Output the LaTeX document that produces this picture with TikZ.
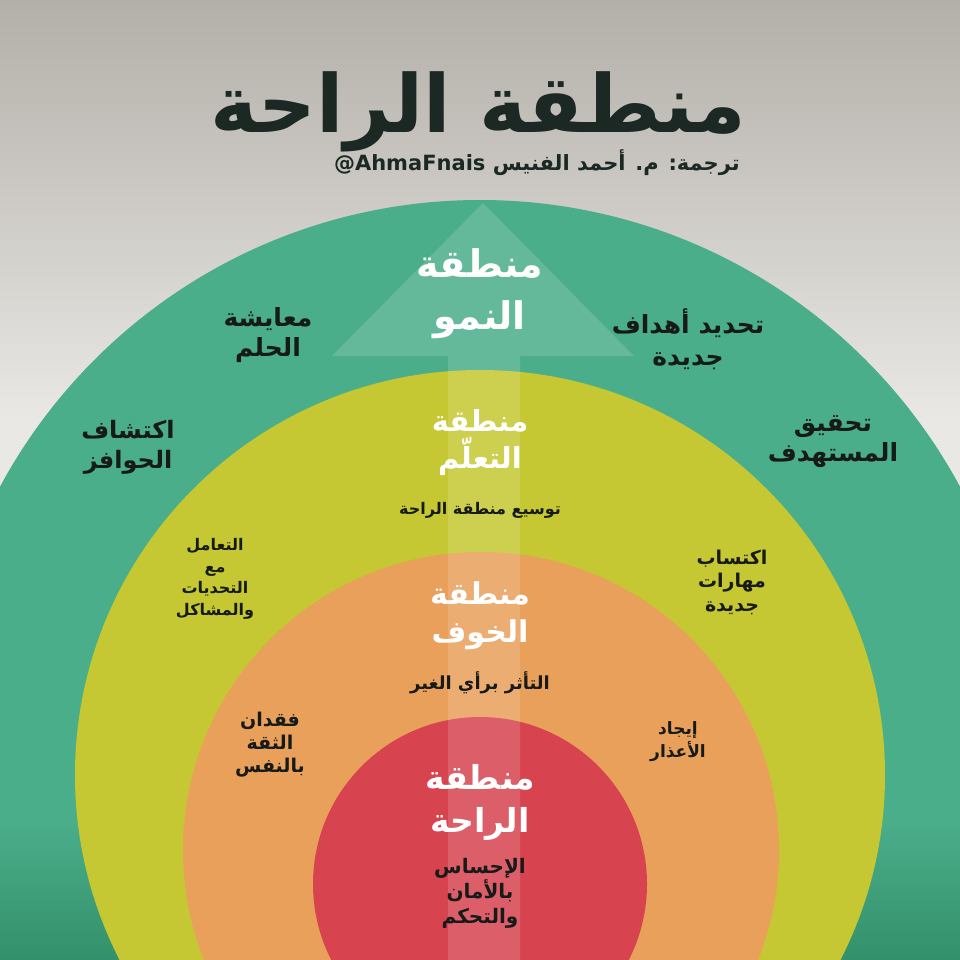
\documentclass[tikz,border=0pt]{standalone}
\usepackage{fontspec}
\usepackage{graphicx}
\TeXXeTstate=1
\newfontfamily\arfont[Script=Arabic]{DejaVu Sans}
\newcommand{\AR}[1]{\beginR #1\endR}
\definecolor{bgtop}{HTML}{B3AFA9}
\definecolor{bgmid}{HTML}{E9E8E4}
\definecolor{ringgreen}{HTML}{4BAE8B}
\definecolor{darkgreen}{HTML}{2E8A63}
\definecolor{ringyellow}{HTML}{C5C832}
\definecolor{ringorange}{HTML}{E8A05A}
\definecolor{ringred}{HTML}{D74450}
\definecolor{titledark}{HTML}{1B2823}
\definecolor{txtdark}{HTML}{161A18}
\tikzset{
  zonelbl/.style={text=white, inner sep=0pt, align=center},
  sidelbl/.style={text=txtdark, inner sep=0pt, align=center},
}
\begin{document}
\begin{tikzpicture}[x=1pt,y=-1pt]
\useasboundingbox (0,0) rectangle (960,960);
\begin{scope}
\clip (0,0) rectangle (960,960);
% background
\shade[top color=bgtop, bottom color=bgmid] (0,0) rectangle (960,420);
\fill[bgmid] (0,419) rectangle (960,960);
% rings
\fill[ringgreen] (480,745) circle (545pt);
\begin{scope}
\clip (480,745) circle (545pt);
\shade[top color=ringgreen, bottom color=darkgreen, opacity=0.8] (0,820) rectangle (960,960);
\end{scope}
\fill[ringyellow] (480,775) circle (405pt);
\fill[ringorange] (481,850) circle (298pt);
\fill[ringred] (480,884) circle (167pt);
% translucent arrow
\fill[white, opacity=0.14] (483,203) -- (634,356) -- (520,356) -- (520,960)
  -- (448,960) -- (448,356) -- (332,356) -- cycle;
\end{scope}
% title
\node[text=titledark, inner sep=0pt] (title) at (478,112)
  {\resizebox{535pt}{!}{\arfont\bfseries\AR{منطقة الراحة}}};
\node[text=titledark, inner sep=0pt, anchor=east] (sub) at (740,163)
  {\arfont\bfseries\fontsize{21}{24}\selectfont\AR{ترجمة: م. أحمد الفنيس \beginL @AhmaFnais\endL}};
% zone titles
\node[zonelbl, font=\arfont\bfseries\fontsize{38}{52}\selectfont] (growth) at (480,294) {\AR{منطقة}\\\AR{النمو}};
\node[zonelbl, font=\arfont\bfseries\fontsize{29}{37}\selectfont] (learn) at (480,443) {\AR{منطقة}\\\AR{التعلّم}};
\node[zonelbl, font=\arfont\bfseries\fontsize{30}{38}\selectfont] (fear) at (480,616) {\AR{منطقة}\\\AR{الخوف}};
\node[zonelbl, font=\arfont\bfseries\fontsize{33}{43}\selectfont] (comfort) at (480,802) {\AR{منطقة}\\\AR{الراحة}};
% centre descriptions
\node[sidelbl, font=\arfont\bfseries\fontsize{16}{20}\selectfont] (expand) at (480,510) {\AR{توسيع منطقة الراحة}};
\node[sidelbl, font=\arfont\bfseries\fontsize{18}{22}\selectfont] (others) at (480,683) {\AR{التأثر برأي الغير}};
\node[sidelbl, font=\arfont\bfseries\fontsize{20}{25}\selectfont] (safe) at (480,893) {\AR{الإحساس}\\\AR{بالأمان}\\\AR{والتحكم}};
% green ring
\node[sidelbl, font=\arfont\bfseries\fontsize{25}{30}\selectfont] (dream) at (268,335) {\AR{معايشة}\\\AR{الحلم}};
\node[sidelbl, font=\arfont\bfseries\fontsize{24}{30}\selectfont] (motiv) at (128,447) {\AR{اكتشاف}\\\AR{الحوافز}};
\node[sidelbl, font=\arfont\bfseries\fontsize{25}{32}\selectfont] (goals) at (688,339) {\AR{تحديد أهداف}\\\AR{جديدة}};
\node[sidelbl, font=\arfont\bfseries\fontsize{25}{30}\selectfont] (target) at (833,442) {\AR{تحقيق}\\\AR{المستهدف}};
% yellow ring
\node[sidelbl, font=\arfont\bfseries\fontsize{16}{21.7}\selectfont] (challenge) at (215,579) {\AR{التعامل}\\\AR{مع}\\\AR{التحديات}\\\AR{والمشاكل}};
\node[sidelbl, font=\arfont\bfseries\fontsize{19}{23.5}\selectfont] (skills) at (732,582) {\AR{اكتساب}\\\AR{مهارات}\\\AR{جديدة}};
% orange ring
\node[sidelbl, font=\arfont\bfseries\fontsize{19}{23}\selectfont] (conf) at (270,745) {\AR{فقدان}\\\AR{الثقة}\\\AR{بالنفس}};
\node[sidelbl, font=\arfont\bfseries\fontsize{17}{23}\selectfont] (excuse) at (678,742) {\AR{إيجاد}\\\AR{الأعذار}};
\end{tikzpicture}
\end{document}
